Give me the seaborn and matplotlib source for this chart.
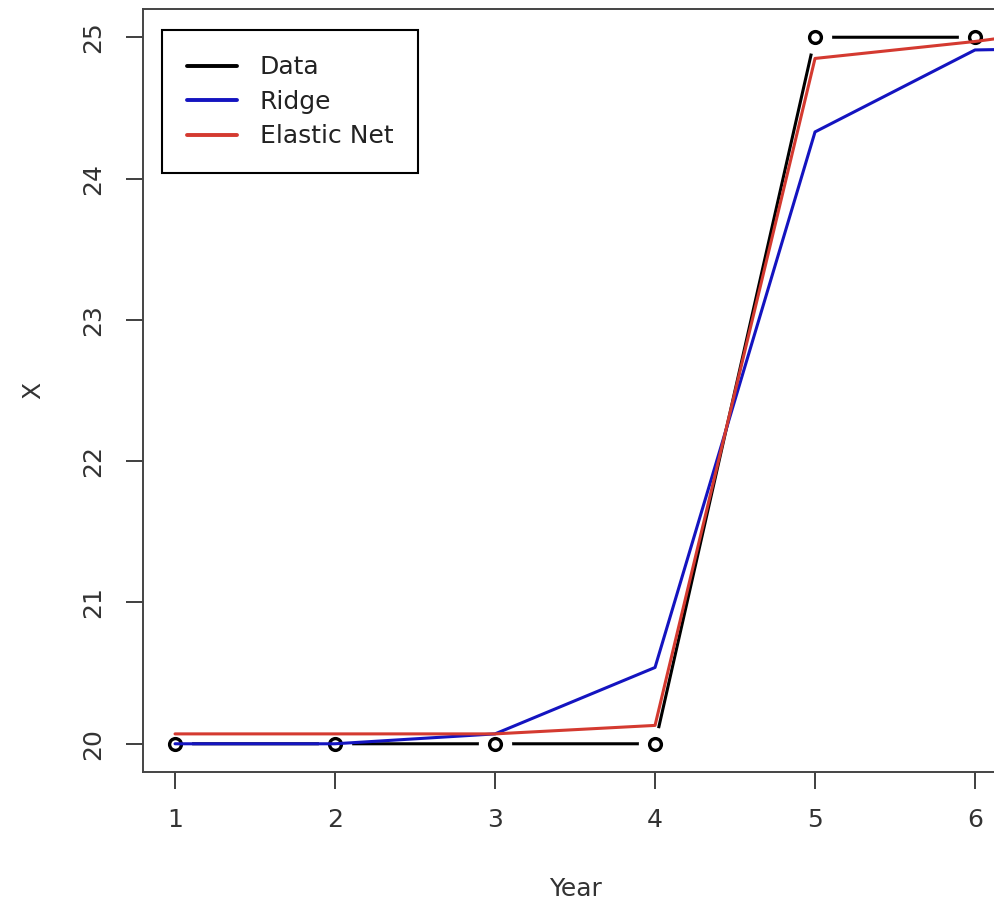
import matplotlib
matplotlib.use("Agg")
import matplotlib.pyplot as plt
import seaborn as sns
import pandas as pd

# data
years = [1, 2, 3, 4, 5, 6]
data_vals = [20, 20, 20, 20, 25, 25]
model_years = [1, 2, 3, 4, 5, 6, 7]
ridge_vals = [20.0, 20.0, 20.07, 20.54, 24.33, 24.91, 24.93]
enet_vals = [20.07, 20.07, 20.07, 20.13, 24.85, 24.97, 25.12]
x_ticks = [1, 2, 3, 4, 5, 6]
y_ticks = [20, 21, 22, 23, 24, 25]

sns.set_style("white")
plt.rcParams['font.family'] = ['DejaVu Sans', 'Liberation Sans']

fig = plt.figure(figsize=(9.94, 9.07), dpi=100)
ax = fig.add_axes([0.1439, 0.1488, 0.8692, 0.8413])

df_data = pd.DataFrame({"Year": years, "X": data_vals})
df_ridge = pd.DataFrame({"Year": model_years, "X": ridge_vals})
df_enet = pd.DataFrame({"Year": model_years, "X": enet_vals})

# Data line (type="b": line with gaps around points)
sns.lineplot(data=df_data, x="Year", y="X", ax=ax, color="black", lw=2.2,
             estimator=None, sort=False, zorder=1, label="Data")
ax.plot(df_data["Year"], df_data["X"], ls="none", marker="o", ms=24,
        mfc="white", mec="none", zorder=1.5)
ax.plot(df_data["Year"], df_data["X"], ls="none", marker="o", ms=8.5,
        mfc="none", mec="black", mew=2.4, zorder=2)

sns.lineplot(data=df_ridge, x="Year", y="X", ax=ax, color="#1414c0", lw=2.2,
             estimator=None, sort=False, zorder=3, label="Ridge")
sns.lineplot(data=df_enet, x="Year", y="X", ax=ax, color="#d43a30", lw=2.2,
             estimator=None, sort=False, zorder=4, label="Elastic Net")

ax.set_xlim(0.8, 6.2)
ax.set_ylim(19.8, 25.2)
ax.set_xticks(x_ticks)
ax.set_yticks(y_ticks)
ax.set_xticklabels([str(v) for v in x_ticks])
ax.set_yticklabels([str(v) for v in y_ticks], rotation=90, va="center")

for s in ax.spines.values():
    s.set_visible(True)
    s.set_color("#444444")
    s.set_linewidth(1.4)

ax.tick_params(axis="both", direction="out", length=12, width=1.4,
               color="#444444", labelsize=18, labelcolor="#333333",
               bottom=True, left=True)
ax.tick_params(axis="x", pad=14)
ax.tick_params(axis="y", pad=15)

# explicit tick marks (outward), in axis-blended coordinates
xt_len = 17 / (0.8413 * 907)
yt_len = 17 / (0.8692 * 994)
for xv in x_ticks:
    ax.plot([xv, xv], [0, -xt_len], transform=ax.get_xaxis_transform(),
            color="#444444", lw=1.4, clip_on=False, zorder=5,
            solid_capstyle="butt")
for yv in y_ticks:
    ax.plot([0, -yt_len], [yv, yv], transform=ax.get_yaxis_transform(),
            color="#444444", lw=1.4, clip_on=False, zorder=5,
            solid_capstyle="butt")

ax.set_xlabel("Year", fontsize=18, color="#333333", labelpad=32)
ax.set_ylabel("X", fontsize=18, color="#333333", labelpad=26)

leg = ax.legend(loc="upper left", bbox_to_anchor=(0.022, 0.972),
                borderaxespad=0, fontsize=18, frameon=True, fancybox=False,
                framealpha=1, edgecolor="black", handlelength=2.0,
                handletextpad=0.9, borderpad=1.0, labelspacing=0.42)
leg.get_frame().set_linewidth(1.5)
for t in leg.get_texts():
    t.set_color("#222222")
for h in leg.get_lines():
    h.set_linewidth(2.8)

fig.savefig("out.png", dpi=100)
